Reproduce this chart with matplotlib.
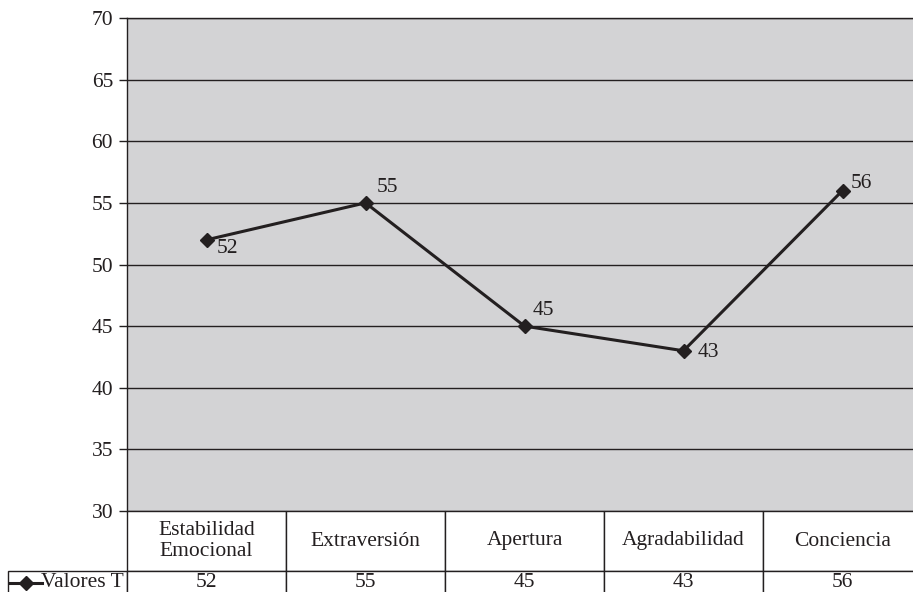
import matplotlib
matplotlib.use("Agg")
import matplotlib.pyplot as plt

categorias = ["Estabilidad\nEmocional", "Extraversión", "Apertura",
              "Agradabilidad", "Conciencia"]
valores_t = [52, 55, 45, 43, 56]
serie = "Valores T"
y_ticks = [30, 35, 40, 45, 50, 55, 60, 65, 70]

# label offsets (points) for each data label
offsets = [(7, -6), (8, 11), (6, 11), (10, -1), (6, 5)]

plt.rcParams['font.family'] = ['Liberation Serif', 'DejaVu Serif']
ink = "#231f20"
fs = 15.5

W, H = 913, 592
fig = plt.figure(figsize=(W / 100, H / 100), dpi=100)
fig.patch.set_facecolor("white")

left, right, top, bottom = 127, 922, 18, 511
ax = fig.add_axes([left / W, 1 - bottom / H, (right - left) / W, (bottom - top) / H])
ax.set_facecolor("#d3d3d5")

x = list(range(len(valores_t)))
ax.plot(x, valores_t, color=ink, lw=2.2, marker="D", markersize=7.5,
        markerfacecolor=ink, markeredgecolor=ink, zorder=3)

for xi, v, (dx, dy) in zip(x, valores_t, offsets):
    ax.annotate(str(v), (xi, v), xytext=(dx, dy), textcoords="offset points",
                ha="left", va="center", fontsize=fs, color=ink)

ax.set_xlim(-0.5, len(valores_t) - 0.5)
ax.set_ylim(30, 70)
ax.set_yticks(y_ticks)
ax.set_xticks([])
ax.yaxis.grid(True, color=ink, lw=1.0)
ax.set_axisbelow(True)
ax.tick_params(axis="y", length=6, width=1, color=ink, pad=4,
               labelsize=fs, labelcolor=ink)

for s in ["right", "bottom"]:
    ax.spines[s].set_visible(False)
for s in ["left", "top"]:
    ax.spines[s].set_color(ink)
    ax.spines[s].set_linewidth(1.0)

# data table under the plot (bbox covers the data columns only)
ax_w = right - left
ax_h = bottom - top
lab_w = (left - 8) / ax_w
col_w = 1.0 / len(categorias)
head_h, row_h = 60, 23
tbl = ax.table(cellText=[[str(v) for v in valores_t]],
               colLabels=categorias,
               colWidths=[col_w] * len(categorias),
               cellLoc="center",
               bbox=[0, -(head_h + row_h) / ax_h, 1, (head_h + row_h) / ax_h])
lab = tbl.add_cell(1, -1, width=lab_w, height=row_h / ax_h, text=serie,
                   loc="right")
lab.PAD = 0.03
tbl.auto_set_font_size(False)
tbl.set_fontsize(fs)
for (r, c), cell in tbl.get_celld().items():
    cell.set_edgecolor(ink)
    cell.set_linewidth(1.0)
    cell.set_facecolor("white")
    cell.get_text().set_color(ink)
    cell.set_height(head_h / ax_h if r == 0 else row_h / ax_h)

# legend key inside the row label cell
ky = -(head_h + row_h / 2) / ax_h
ax.plot([(10 - left) / ax_w, (42 - left) / ax_w], [ky, ky],
        transform=ax.transAxes, color=ink, lw=2.2, clip_on=False, zorder=5)
ax.plot([(26 - left) / ax_w], [ky], transform=ax.transAxes, marker="D",
        markersize=7.5, color=ink, clip_on=False, zorder=5)

fig.savefig("out.png", dpi=100)
